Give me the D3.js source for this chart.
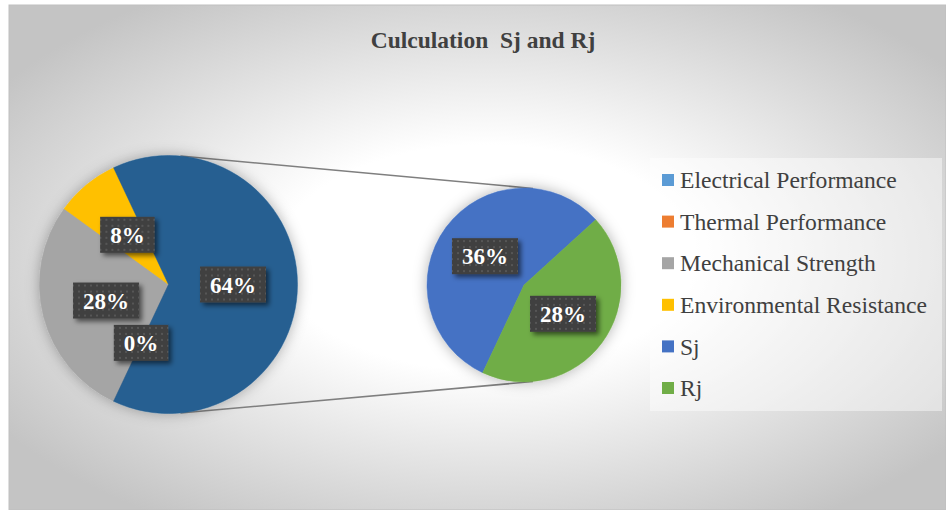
<!DOCTYPE html>
<html>
<head>
<meta charset="utf-8">
<script src="https://cdn.jsdelivr.net/npm/d3@7"></script>
<style>
  html, body { margin: 0; padding: 0; background: #ffffff; }
  svg { display: block; }
  svg text { font-family: "Liberation Serif", "Times New Roman", Times, "DejaVu Serif", serif; }
</style>
</head>
<body>
<svg id="chart" width="946" height="510"></svg>
<script>
// ---- data ----
const title = "Culculation  Sj and Rj";
const categories = ["Electrical Performance", "Thermal Performance", "Mechanical Strength", "Environmental Resistance", "Sj", "Rj"];
const values = [0, 0, 28, 8, 36, 28];
const colors = ["#5B9BD5", "#ED7D31", "#A5A5A5", "#FFC000", "#4472C4", "#70AD47"];
const showLabel = [false, true, true, true, true, true];
const secondPlot = ["Sj", "Rj"];          // categories split into the second pie
const otherColor = "#255E91";

// ---- layout ----
const W = 946, H = 510;
const svg = d3.select("#chart");
const defs = svg.append("defs");

const bg = defs.append("radialGradient").attr("id", "bgGrad")
  .attr("cx", "0.51").attr("cy", "0.5").attr("r", "0.62");
bg.append("stop").attr("offset", "0").attr("stop-color", "#ffffff");
bg.append("stop").attr("offset", "0.36").attr("stop-color", "#ffffff");
bg.append("stop").attr("offset", "1").attr("stop-color", "#c4c4c4");

const pat = defs.append("pattern").attr("id", "dots")
  .attr("patternUnits", "userSpaceOnUse").attr("width", 6).attr("height", 6);
pat.append("rect").attr("width", 6).attr("height", 6).attr("fill", "#3f3f3f");
pat.append("rect").attr("x", 2).attr("y", 2).attr("width", 2).attr("height", 2).attr("fill", "#575757");

const pieShadow = defs.append("filter").attr("id", "pieShadow")
  .attr("x", "-30%").attr("y", "-30%").attr("width", "160%").attr("height", "160%");
pieShadow.append("feDropShadow").attr("dx", 0).attr("dy", 0).attr("stdDeviation", 7)
  .attr("flood-color", "#000").attr("flood-opacity", 0.3);

const lblShadow = defs.append("filter").attr("id", "lblShadow")
  .attr("x", "-30%").attr("y", "-30%").attr("width", "160%").attr("height", "160%");
lblShadow.append("feDropShadow").attr("dx", 3).attr("dy", 3).attr("stdDeviation", 2.5)
  .attr("flood-color", "#000").attr("flood-opacity", 0.55);

// chart area
svg.append("rect").attr("x", 9).attr("y", 5).attr("width", W - 9).attr("height", H - 5)
  .attr("fill", "url(#bgGrad)").attr("stroke", "#bfbfbf").attr("stroke-width", 1);

// title
svg.append("text").attr("x", 483).attr("y", 48).attr("text-anchor", "middle")
  .attr("font-weight", "bold").attr("font-size", 23.5).attr("fill", "#404040")
  .style("white-space", "pre")
  .text(title);

// ---- pie data ----
const items = categories.map((c, i) => ({ name: c, value: values[i], color: colors[i], show: showLabel[i] }));
const firstItems = items.filter(d => !secondPlot.includes(d.name));
const secondItems = items.filter(d => secondPlot.includes(d.name));
const total = d3.sum(values);
const otherValue = d3.sum(secondItems, d => d.value);
const firstData = firstItems.concat([{ name: "Other", value: otherValue, color: otherColor, show: true }]);

const fmt = v => d3.format(".0%")(v / total);
const deg = Math.PI / 180;
// "Other" slice is centred at 3 o'clock
const startA = Math.PI / 2 + (otherValue / total) * Math.PI;

const c1 = { x: 168.5, y: 284.5, r: 129 };
const c2 = { x: 524, y: 285, r: 97 };

const pie1 = d3.pie().sort(null).value(d => d.value).startAngle(startA).endAngle(startA + 2 * Math.PI);
const pie2 = d3.pie().sort(null).value(d => d.value).startAngle(startA).endAngle(startA + 2 * Math.PI);

// connector lines
const la = 5.3 * deg;
const pt = (c, a) => [c.x + c.r * Math.sin(a), c.y - c.r * Math.cos(a)];
[[la, la], [Math.PI - la, Math.PI - la]].forEach(([a1, a2]) => {
  const p1 = pt(c1, a1), p2 = pt(c2, a2);
  svg.append("line").attr("x1", p1[0]).attr("y1", p1[1]).attr("x2", p2[0]).attr("y2", p2[1])
    .attr("stroke", "#7f7f7f").attr("stroke-width", 1.5);
});

function drawPie(c, arcsData) {
  const g = svg.append("g").attr("transform", `translate(${c.x},${c.y})`);
  const arc = d3.arc().innerRadius(0).outerRadius(c.r);
  const sg = g.append("g").attr("filter", "url(#pieShadow)");
  sg.selectAll("path").data(arcsData).join("path")
    .attr("d", arc).attr("fill", d => d.data.color)
    .attr("stroke", d => d.data.color).attr("stroke-width", 0.5);
  const lg = g.append("g");
  arcsData.filter(d => d.data.show).forEach(d => {
    const [x, y] = arc.centroid(d);
    const lbl = lg.append("g").attr("transform", `translate(${x},${y})`);
    const box = lbl.append("rect").attr("fill", "url(#dots)").attr("filter", "url(#lblShadow)");
    const t = lbl.append("text").attr("text-anchor", "middle").attr("dy", "0.35em")
      .attr("font-weight", "bold").attr("font-size", 23).attr("fill", "#ffffff")
      .text(fmt(d.data.value));
    const bb = t.node().getBBox();
    const w = bb.width + 20, h = 36;
    box.attr("x", -w / 2).attr("y", -h / 2).attr("width", w).attr("height", h);
  });
}

drawPie(c1, pie1(firstData));
drawPie(c2, pie2(secondItems));

// ---- legend ----
const leg = svg.append("g");
leg.append("rect").attr("x", 650).attr("y", 158).attr("width", 292).attr("height", 253)
  .attr("fill", "#ffffff").attr("fill-opacity", 0.45);
const rowY = d3.scalePoint().domain(categories).range([180, 388]);
categories.forEach((c, i) => {
  const y = rowY(c);
  leg.append("rect").attr("x", 662).attr("y", y - 6).attr("width", 12).attr("height", 12).attr("fill", colors[i]);
  leg.append("text").attr("x", 680).attr("y", y).attr("dy", "0.35em")
    .attr("font-size", 23.6).attr("fill", "#404040").text(c);
});
</script>
</body>
</html>
